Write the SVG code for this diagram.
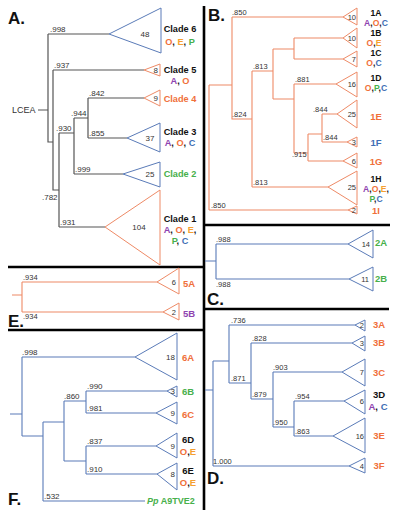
<svg xmlns="http://www.w3.org/2000/svg" width="400" height="516" viewBox="0 0 400 516">
<style>
text{font-family:"Liberation Sans",Arial,sans-serif}
.bg{fill:#fff}
.div{stroke:#000;stroke-width:2.6;fill:none}
.pl{font-size:17px;font-weight:bold;fill:#111}
.g{stroke:#555;stroke-width:1.2;fill:none}
.o{stroke:#ee8a66;stroke-width:1.1;fill:none}
.b{stroke:#5a7bb8;stroke-width:1.1;fill:none}
.tro{fill:#fff;stroke:#ee8a66;stroke-width:1}
.trb{fill:#fff;stroke:#5a7bb8;stroke-width:1}
.bs{font-size:7.5px;fill:#333}
.bsa{font-size:8px;fill:#333}
.n{font-size:7.5px;fill:#333}
.na{font-size:8px;fill:#333}
.lb{font-size:9.5px;font-weight:bold}
.la{font-size:9.2px;font-weight:bold}
.lB{font-size:8.6px;font-weight:bold}
.k{fill:#111}.cO{fill:#f0703a}.cE{fill:#f5a030}.cP{fill:#47b04b}.cC{fill:#3f6fb5}.cA{fill:#8e44b0}
</style>
<rect class="bg" x="0" y="0" width="400" height="516"/>
<g id="panel-dividers">
<path class="div" d="M204,6 V510 M8,267 H204 M8,330 H204 M204,225 H390 M204,309 H389"/>
</g>
<g id="panel-labels">
<text class="pl" x="8" y="24">A.</text>
<text class="pl" x="208" y="21">B.</text>
<text class="pl" x="207" y="305">C.</text>
<text class="pl" x="207" y="484">D.</text>
<text class="pl" x="8" y="327">E.</text>
<text class="pl" x="8" y="505">F.</text>
</g>
<g id="connectors">
<path class="g" d="M38,110 H48 M48,34 V142 H53 M48,34 H109 M53,70 V190 H59 M53,70 H144 M59,133 V227 M59,133 H74 M74,118 V174 M74,118 H88 M88,98 V138 M88,98 H144 M88,138 H127 M74,174 H123 M59,227 H105"/>
<path class="o" d="M209,85 V210 M209,85 H232 M232,17 V119 H252 M232,17 H343 M209,210 H348 M252,71 V187 M252,71 H273 M273,49 V99 M273,49 H294 M294,38 V59 M294,38 H343 M294,59 H343 M273,99 H294 M294,84 V153 M294,84 H336 M294,153 H308 M308,134 V161 M308,134 H322 M322,114 V142 M322,114 H337 M322,142 H347 M308,161 H343 M252,187 H328"/>
<path class="b" d="M205,261 H216 M216,244 V279 M216,244 H348 M216,279 H349"/>
<path class="o" d="M12,295 H22 M22,282 V312 M22,282 H157 M22,312 H163"/>
<path class="b" d="M10,414 H22 M22,357 V436 M22,357 H135 M22,436 H43 M43,422 V501 M43,422 H64 M64,401 V461 M64,401 H86 M86,391 V413 M86,391 H167 M86,413 H156 M64,461 H86 M86,446 V474 M86,446 H156 M86,474 H157 M43,501 H145"/>
<path class="b" d="M205,390 H213 M213,361 V466 M213,361 H229 M229,325 V383 M229,325 H355 M229,383 H251 M251,343 V399 M251,343 H352 M251,399 H273 M273,372 V427 M273,372 H342 M273,427 H294 M294,401 V436 M294,401 H344 M294,436 H333 M213,466 H349"/>
</g>
<g id="support-values">
<text class="bsa" x="12" y="113" style="font-size:9px">LCEA</text>
<text class="bsa" x="50" y="32">.998</text>
<text class="bsa" x="54" y="68">.937</text>
<text class="bsa" x="89" y="96">.842</text>
<text class="bsa" x="71" y="116">.944</text>
<text class="bsa" x="56" y="131">.930</text>
<text class="bsa" x="89" y="136">.855</text>
<text class="bsa" x="75" y="172">.999</text>
<text class="bsa" x="42" y="200">.782</text>
<text class="bsa" x="60" y="225">.931</text>
<text class="bs" x="232" y="15">.850</text>
<text class="bs" x="232" y="117">.824</text>
<text class="bs" x="253" y="69">.813</text>
<text class="bs" x="295" y="82">.881</text>
<text class="bs" x="313" y="112">.844</text>
<text class="bs" x="323" y="140">.844</text>
<text class="bs" x="292" y="157">.915</text>
<text class="bs" x="253" y="185">.813</text>
<text class="bs" x="211" y="208">.850</text>
<text class="bs" x="216" y="242">.988</text>
<text class="bs" x="216" y="287">.988</text>
<text class="bs" x="23" y="280">.934</text>
<text class="bs" x="23" y="319">.934</text>
<text class="bsa" x="22" y="355">.998</text>
<text class="bsa" x="64" y="399">.860</text>
<text class="bsa" x="87" y="389">.990</text>
<text class="bsa" x="87" y="411">.981</text>
<text class="bsa" x="87" y="444">.837</text>
<text class="bsa" x="87" y="472">.910</text>
<text class="bsa" x="44" y="499">.532</text>
<text class="bs" x="231" y="323">.736</text>
<text class="bs" x="231" y="381">.871</text>
<text class="bs" x="252" y="341">.828</text>
<text class="bs" x="252" y="397">.879</text>
<text class="bs" x="273" y="370">.903</text>
<text class="bs" x="273" y="425">.950</text>
<text class="bs" x="295" y="399">.954</text>
<text class="bs" x="295" y="434">.863</text>
<text class="bs" x="213" y="464">1.000</text>
</g>
<g id="clade6"><polygon class="trb" points="109,34 161,8 161,53"/><text class="na" x="145" y="37" text-anchor="middle">48</text>
<text class="la k" x="180" y="32" text-anchor="middle">Clade 6</text>
<text class="la" x="180" y="45" text-anchor="middle"><tspan class="cO">O</tspan><tspan class="k">, </tspan><tspan class="cE">E</tspan><tspan class="k">, </tspan><tspan class="cP">P</tspan></text></g>
<g id="clade5"><polygon class="tro" points="144,70 160,64 160,76"/><text class="na" x="158" y="73" text-anchor="end">8</text>
<text class="la k" x="180" y="73" text-anchor="middle">Clade 5</text>
<text class="la" x="180" y="84" text-anchor="middle"><tspan class="cA">A</tspan><tspan class="k">, </tspan><tspan class="cO">O</tspan></text></g>
<g id="clade4"><polygon class="tro" points="144,98 160,90 160,106"/><text class="na" x="158" y="101" text-anchor="end">9</text>
<text class="la cO" x="180" y="102" text-anchor="middle">Clade 4</text></g>
<g id="clade3"><polygon class="trb" points="127,138 160,123 160,152"/><text class="na" x="150" y="141" text-anchor="middle">37</text>
<text class="la k" x="180" y="134.5" text-anchor="middle">Clade 3</text>
<text class="la" x="180" y="145.5" text-anchor="middle"><tspan class="cA">A</tspan><tspan class="k">, </tspan><tspan class="cO">O</tspan><tspan class="k">, </tspan><tspan class="cC">C</tspan></text></g>
<g id="clade2"><polygon class="trb" points="123,174 160,162 160,187"/><text class="na" x="150" y="177" text-anchor="middle">25</text>
<text class="la cP" x="180" y="177" text-anchor="middle">Clade 2</text></g>
<g id="clade1"><polygon class="tro" points="105,227 160,190 160,265"/><text class="na" x="139" y="230" text-anchor="middle">104</text>
<text class="la k" x="180" y="221.5" text-anchor="middle">Clade 1</text>
<text class="la" x="180" y="232.5" text-anchor="middle"><tspan class="cA">A</tspan><tspan class="k">, </tspan><tspan class="cO">O</tspan><tspan class="k">, </tspan><tspan class="cE">E</tspan><tspan class="k">,</tspan></text>
<text class="la" x="180" y="243.5" text-anchor="middle"><tspan class="cP">P</tspan><tspan class="k">, </tspan><tspan class="cC">C</tspan></text></g>
<g id="n1A"><polygon class="tro" points="343,17 357,8 357,25"/><text class="n" x="356" y="20" text-anchor="end">10</text>
<text class="lB k" x="376" y="16" text-anchor="middle">1A</text>
<text class="lB" x="376" y="26" text-anchor="middle"><tspan class="cA">A</tspan><tspan class="k">,</tspan><tspan class="cO">O</tspan><tspan class="k">,</tspan><tspan class="cC">C</tspan></text></g>
<g id="n1B"><polygon class="tro" points="343,38 357,28 357,48"/><text class="n" x="356" y="41" text-anchor="end">10</text>
<text class="lB k" x="376" y="36" text-anchor="middle">1B</text>
<text class="lB" x="374" y="46" text-anchor="middle"><tspan class="cO">O</tspan><tspan class="k">,</tspan><tspan class="cE">E</tspan></text></g>
<g id="n1C"><polygon class="tro" points="343,59 357,51 357,67"/><text class="n" x="356" y="62" text-anchor="end">7</text>
<text class="lB k" x="376" y="56" text-anchor="middle">1C</text>
<text class="lB" x="374" y="66" text-anchor="middle"><tspan class="cO">O</tspan><tspan class="k">,</tspan><tspan class="cC">C</tspan></text></g>
<g id="n1D"><polygon class="tro" points="336,84 357,72 357,97"/><text class="n" x="356" y="87" text-anchor="end">16</text>
<text class="lB k" x="376" y="81" text-anchor="middle">1D</text>
<text class="lB" x="376" y="91" text-anchor="middle"><tspan class="cO">O</tspan><tspan class="k">,</tspan><tspan class="cP">P</tspan><tspan class="k">,</tspan><tspan class="cC">C</tspan></text></g>
<g id="n1E"><polygon class="tro" points="337,114 357,100 357,128"/><text class="n" x="356" y="117" text-anchor="end">25</text>
<text class="lb cO" x="376" y="120" text-anchor="middle">1E</text></g>
<g id="n1F"><polygon class="tro" points="347,142 357,137 357,147"/><text class="n" x="356" y="145" text-anchor="end">3</text>
<text class="lb cC" x="376" y="146" text-anchor="middle">1F</text></g>
<g id="n1G"><polygon class="tro" points="343,161 357,153 357,168"/><text class="n" x="356" y="164" text-anchor="end">6</text>
<text class="lb cO" x="376" y="165" text-anchor="middle">1G</text></g>
<g id="n1H"><polygon class="tro" points="328,187 357,171 357,205"/><text class="n" x="356" y="190" text-anchor="end">25</text>
<text class="lB k" x="376" y="182" text-anchor="middle">1H</text>
<text class="lB" x="376" y="192" text-anchor="middle"><tspan class="cA">A</tspan><tspan class="k">,</tspan><tspan class="cO">O</tspan><tspan class="k">,</tspan><tspan class="cE">E</tspan><tspan class="k">,</tspan></text>
<text class="lB" x="376" y="202" text-anchor="middle"><tspan class="cP">P</tspan><tspan class="k">,</tspan><tspan class="cC">C</tspan></text></g>
<g id="n1I"><polygon class="tro" points="348,210 357,206 357,214"/><text class="n" x="356" y="213" text-anchor="end">2</text>
<text class="lb cO" x="376" y="214" text-anchor="middle">1I</text></g>
<g id="n2A"><polygon class="trb" points="348,244 373,230 373,258"/><text class="n" x="370" y="247" text-anchor="end">14</text>
<text class="lb cP" x="381" y="246" text-anchor="middle">2A</text></g>
<g id="n2B"><polygon class="trb" points="349,279 373,267 373,291"/><text class="n" x="369" y="282" text-anchor="end">11</text>
<text class="lb cP" x="381" y="282" text-anchor="middle">2B</text></g>
<g id="n5A"><polygon class="tro" points="157,282 179,268 179,294"/><text class="n" x="176" y="285" text-anchor="end">6</text>
<text class="lb cO" x="189" y="287" text-anchor="middle">5A</text></g>
<g id="n5B"><polygon class="tro" points="163,312 179,303 179,320"/><text class="n" x="176" y="315" text-anchor="end">2</text>
<text class="lb cA" x="189" y="317" text-anchor="middle">5B</text></g>
<g id="n6A"><polygon class="trb" points="135,357 177,333 177,380"/><text class="na" x="175" y="360" text-anchor="end">18</text>
<text class="lb cO" x="188" y="361" text-anchor="middle">6A</text></g>
<g id="n6B"><polygon class="trb" points="167,391 177,386 177,397"/><text class="na" x="175" y="394" text-anchor="end">3</text>
<text class="lb cP" x="188" y="395" text-anchor="middle">6B</text></g>
<g id="n6C"><polygon class="trb" points="156,413 177,402 177,424"/><text class="na" x="175" y="416" text-anchor="end">9</text>
<text class="lb cO" x="188" y="418" text-anchor="middle">6C</text></g>
<g id="n6D"><polygon class="trb" points="156,446 177,433 177,458"/><text class="na" x="175" y="449" text-anchor="end">9</text>
<text class="lb k" x="188" y="443" text-anchor="middle">6D</text>
<text class="lb" x="188" y="455" text-anchor="middle"><tspan class="cO">O</tspan><tspan class="k">,</tspan><tspan class="cE">E</tspan></text></g>
<g id="n6E"><polygon class="trb" points="157,474 177,463 177,490"/><text class="na" x="175" y="477" text-anchor="end">8</text>
<text class="lb k" x="188" y="474" text-anchor="middle">6E</text>
<text class="lb" x="188" y="486" text-anchor="middle"><tspan class="cO">O</tspan><tspan class="k">,</tspan><tspan class="cE">E</tspan></text></g>
<g id="pp"><text class="lb cP" x="147" y="504" style="font-size:9px"><tspan font-style="italic">Pp</tspan> A9TVE2</text></g>
<g id="n3A"><polygon class="trb" points="355,325 365,320 365,331"/><text class="n" x="364" y="328" text-anchor="end">2</text>
<text class="lb cO" x="379" y="328" text-anchor="middle">3A</text></g>
<g id="n3B"><polygon class="trb" points="352,343 365,336 365,351"/><text class="n" x="364" y="346" text-anchor="end">3</text>
<text class="lb cO" x="379" y="346" text-anchor="middle">3B</text></g>
<g id="n3C"><polygon class="trb" points="342,372 365,359 365,386"/><text class="n" x="364" y="375" text-anchor="end">7</text>
<text class="lb cO" x="379" y="376" text-anchor="middle">3C</text></g>
<g id="n3D"><polygon class="trb" points="344,401 365,390 365,414"/><text class="n" x="364" y="404" text-anchor="end">6</text>
<text class="lb k" x="379" y="398" text-anchor="middle">3D</text>
<text class="lb" x="378" y="410" text-anchor="middle"><tspan class="cA">A</tspan><tspan class="k">, </tspan><tspan class="cC">C</tspan></text></g>
<g id="n3E"><polygon class="trb" points="333,436 365,418 365,453"/><text class="n" x="364" y="439" text-anchor="end">16</text>
<text class="lb cO" x="379" y="439" text-anchor="middle">3E</text></g>
<g id="n3F"><polygon class="trb" points="349,466 365,458 365,473"/><text class="n" x="364" y="469" text-anchor="end">4</text>
<text class="lb cO" x="379" y="469" text-anchor="middle">3F</text></g>
</svg>
